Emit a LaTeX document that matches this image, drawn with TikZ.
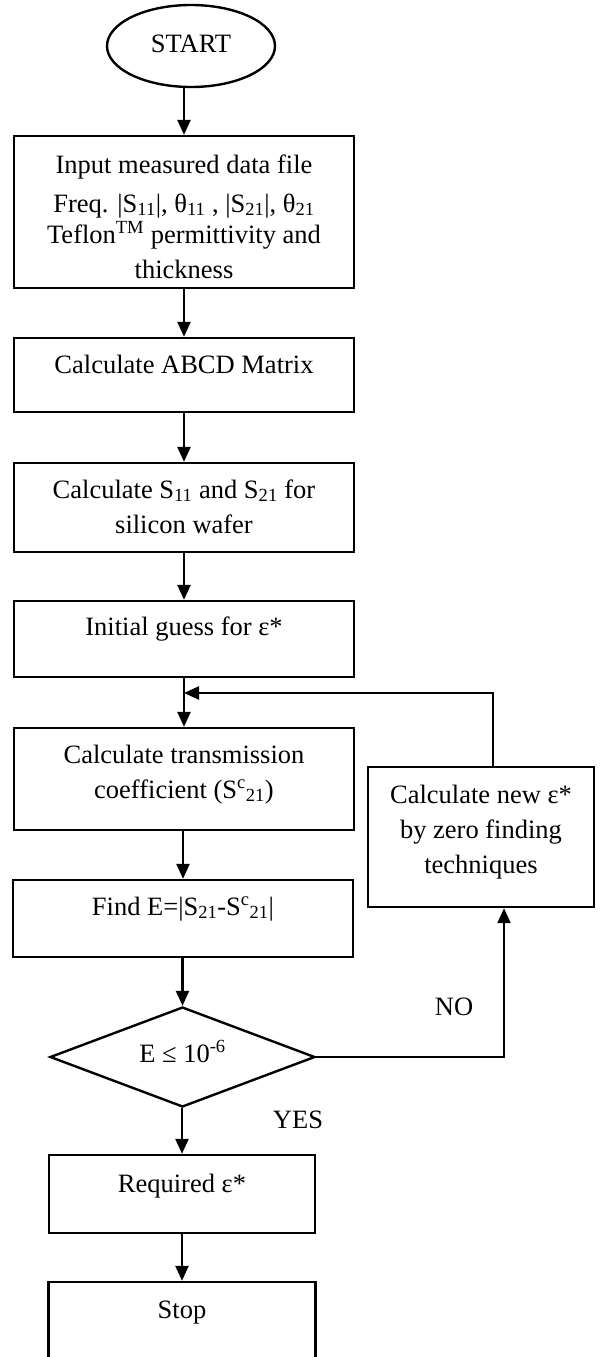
\documentclass[tikz,border=0pt]{standalone}
\usepackage{fontspec}
\setmainfont{Liberation Serif}
\usetikzlibrary{arrows.meta,shapes.geometric}
\tikzset{
  box/.style={draw, line width=2.4pt, rectangle, inner sep=0pt},
  lbl/.style={anchor=base, inner sep=0pt, font=\fontsize{26.5}{30}\selectfont},
  conn/.style={line width=2.4pt, -{Triangle[length=15pt,width=13pt]}},
}
\begin{document}
\begin{tikzpicture}[x=1pt,y=-1pt]
\useasboundingbox (0,0) rectangle (601,1357);
% shapes
\node[box, ellipse, minimum width=168pt, minimum height=82pt] (start) at (191,46) {};
\node[box, minimum width=340pt, minimum height=152pt] (inp) at (184,212) {};
\node[box, minimum width=340pt, minimum height=74pt] (abcd) at (184,375) {};
\node[box, minimum width=340pt, minimum height=89pt] (sp) at (184,507.5) {};
\node[box, minimum width=340pt, minimum height=76pt] (init) at (184,639) {};
\node[box, minimum width=340pt, minimum height=102pt] (trans) at (184,779) {};
\node[box, minimum width=340pt, minimum height=77pt] (finde) at (183,918.5) {};
\node[box, minimum width=226pt, minimum height=140pt] (newe) at (481,837) {};
\node[box, diamond, minimum width=265pt, minimum height=100pt] (dia) at (182.5,1057) {};
\node[box, minimum width=266pt, minimum height=78pt] (req) at (182,1194) {};
\node[box, minimum width=267pt, minimum height=80pt] (stop) at (182,1322) {};
% texts
\node[lbl] (tstart) at (191,52) {START};
\node[lbl] (ti1) at (184,173) {Input measured data file};
\node[lbl] (ti2) at (184,212) {Freq. |S\textsubscript{11}|, θ\textsubscript{11} , |S\textsubscript{21}|, θ\textsubscript{21}};
\node[lbl] (ti3) at (184,243) {Teflon\textsuperscript{TM} permittivity and};
\node[lbl] (ti4) at (184,278) {thickness};
\node[lbl] (tabcd) at (184,373) {Calculate ABCD Matrix};
\node[lbl] (ts1) at (184,498) {Calculate S\textsubscript{11} and S\textsubscript{21} for};
\node[lbl] (ts2) at (184,533) {silicon wafer};
\node[lbl] (tinit) at (184,635) {Initial guess for ε*};
\node[lbl] (tt1) at (184,763) {Calculate transmission};
\node[lbl] (tt2) at (184,798) {coefficient (S\textsuperscript{c}\textsubscript{21})};
\node[lbl] (tn1) at (481,803) {Calculate new ε*};
\node[lbl] (tn2) at (481,838) {by zero finding};
\node[lbl] (tn3) at (481,873) {techniques};
\node[lbl] (tf) at (183,915) {Find E=|S\textsubscript{21}-S\textsuperscript{c}\textsubscript{21}|};
\node[lbl] (td) at (182.5,1062) {E ≤ 10\textsuperscript{-6}};
\node[lbl] (tno) at (454,1015) {NO};
\node[lbl] (tyes) at (298,1128) {YES};
\node[lbl] (treq) at (182,1192) {Required ε*};
\node[lbl] (tstop) at (182,1318) {Stop};
% connectors
\draw[conn] (start.south -| inp.north) -- (inp.north);
\draw[conn] (inp.south) -- (abcd.north);
\draw[conn] (abcd.south) -- (sp.north);
\draw[conn] (sp.south) -- (init.north);
\draw[conn] (init.south) -- (trans.north);
\draw[conn] (trans.south -| finde.north) -- (finde.north);
\coordinate (fb) at (184,693);
\draw[conn] ([xshift=12pt]newe.north) |- (fb);
\draw[conn] (finde.south -| dia.north) -- (dia.north);
\draw[conn] (dia.east) -| ([xshift=23pt]newe.south);
\draw[conn] (dia.south -| req.north) -- (req.north);
\draw[conn] (req.south) -- (stop.north);
\end{tikzpicture}
\end{document}
